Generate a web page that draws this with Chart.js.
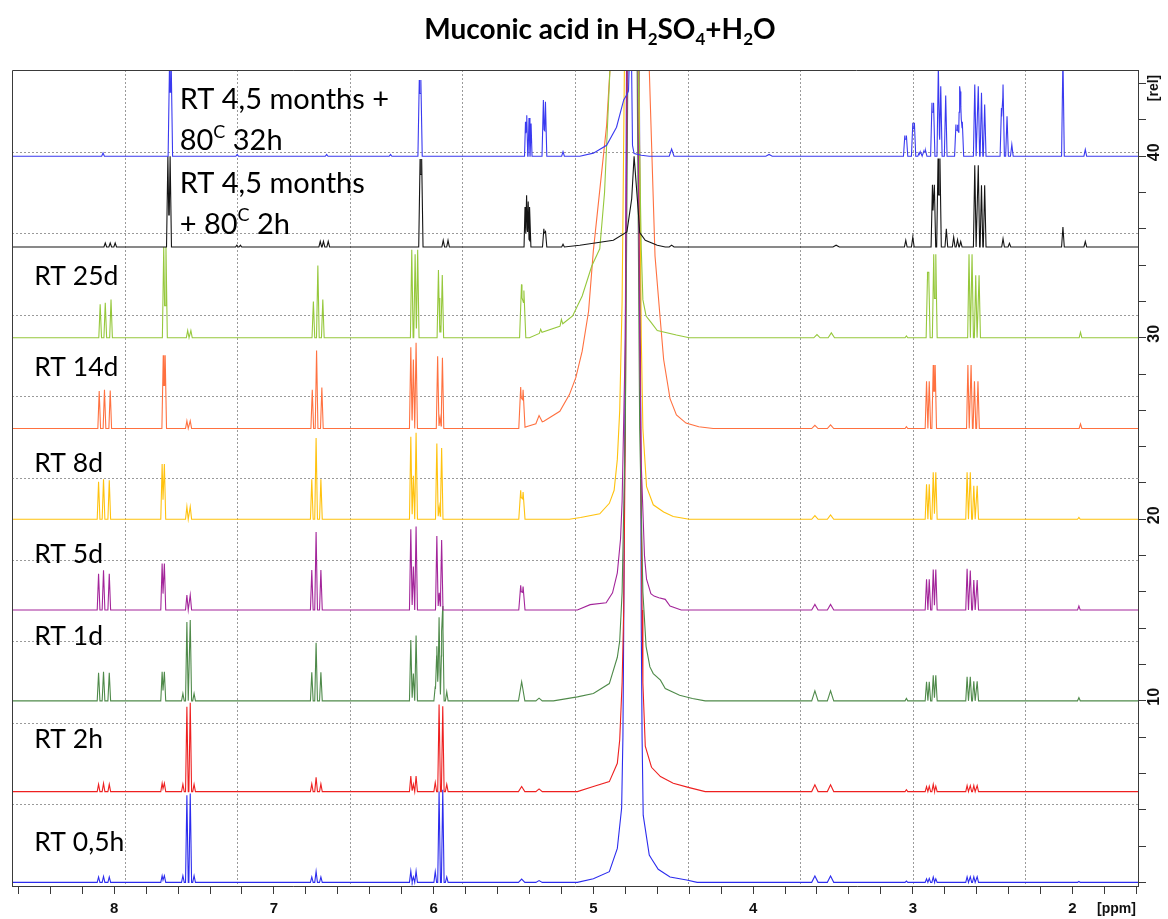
<!DOCTYPE html>
<html>
<head>
<meta charset="utf-8">
<title>Muconic acid in H2SO4+H2O</title>
<script src="https://cdn.jsdelivr.net/npm/chart.js@4.4.1/dist/chart.umd.min.js"></script>
<style>
  html, body { margin: 0; padding: 0; background: #fff; }
  #wrap { width: 1168px; height: 919px; }
</style>
</head>
<body>
<div id="wrap"><canvas id="nmr" width="1168" height="919"></canvas></div>
<script>
// 1H spectra stacked with a vertical offset, shift axis reversed (ppm)
const ppmRange = [8.64, 1.59];
const relRange = [-0.2, 44.75];
const xMajorTicks = [8, 7, 6, 5, 4, 3, 2];
const yLabelTicks = [10, 20, 30, 40];

const sampleNames = ['RT 4,5 months + 80C 32h', 'RT 4,5 months + 80C 2h', 'RT 25d', 'RT 14d',
                     'RT 8d', 'RT 5d', 'RT 1d', 'RT 2h', 'RT 0,5h'];
const sampleOffsets = [40, 35, 30, 25, 20, 15, 10, 5, 0];
const sampleColors = ['#3a3af0', '#151515', '#96c83c', '#ff7140', '#ffc20e', '#a3259a', '#4f8a4a', '#ee2020', '#2c2cee'];

// sharp lines: [ppm, height, half width (optional)]
const peaks32h = [
  [8.07, 0.18], [7.654, 5], [7.643, 5], [7.23, 0.1], [6.67, 0.1], [6.27, 0.1],
  [6.09, 4.2], [6.08, 4.2],
  [5.425, 1.9, 0.006], [5.417, 2.26, 0.006], [5.403, 2.1, 0.006], [5.39, 1.8, 0.006],
  [5.313, 3.1], [5.30, 3.0], [5.19, 0.25], [4.51, 0.4, 0.015], [3.9, 0.1, 0.02],
  [3.05, 1.14], [3.04, 1.14], [3.0, 1.84], [2.99, 1.84], [2.96, 0.2], [2.95, 0.2], [2.93, 0.3], [2.92, 0.3],
  [2.88, 2.94], [2.87, 2.94], [2.84, 5], [2.825, 3.86], [2.794, 3.34],
  [2.73, 1.74], [2.72, 1.74], [2.71, 1.56], [2.705, 2.1], [2.70, 2.7], [2.69, 1.9],
  [2.612, 3.95], [2.59, 3.86], [2.57, 3.5], [2.55, 2.85],
  [2.445, 2.66], [2.435, 3.95], [2.41, 2.2], [2.38, 0.64],
  [2.06, 5.5], [1.92, 0.37]
];
const peaks2h80 = [
  [8.056, 0.22], [8.025, 0.22], [7.994, 0.22], [7.664, 5.0], [7.65, 5.0], [7.232, 0.1], [7.21, 0.1],
  [6.71, 0.31], [6.69, 0.31], [6.66, 0.31], [6.085, 4.85], [6.075, 4.85], [5.94, 0.37], [5.91, 0.37],
  [5.428, 2.2, 0.006], [5.418, 2.85, 0.006], [5.408, 2.5, 0.006], [5.397, 2.2, 0.006],
  [5.31, 1.0], [5.30, 0.9], [5.19, 0.15], [4.51, 0.1, 0.015], [3.48, 0.1, 0.02],
  [3.044, 0.37], [3.0, 0.55], [2.877, 3.43], [2.865, 3.43], [2.842, 4.87], [2.83, 4.87], [2.79, 1.0],
  [2.744, 0.55], [2.72, 0.4], [2.70, 0.3], [2.612, 4.5], [2.59, 4.5], [2.57, 3.4], [2.55, 3.4],
  [2.435, 0.46], [2.395, 0.2], [2.06, 1.1], [1.92, 0.3]
];
const peaks25d = [
  [8.088, 1.84], [8.056, 1.93], [8.02, 2.1], [7.69, 5.0], [7.676, 5.0], [7.54, 0.4], [7.52, 0.4],
  [6.753, 2.0], [6.725, 3.98], [6.694, 2.1], [6.137, 4.85], [6.116, 4.6], [6.10, 4.85],
  [5.97, 3.73], [5.958, 0.5], [5.946, 3.45], [5.45, 2.94, 0.012], [5.435, 2.6, 0.012],
  [5.33, 0.2], [5.2, 0.3], [3.6, 0.18, 0.02], [3.51, 0.27, 0.02], [3.04, 0.1],
  [2.908, 3.4], [2.9, 3.4], [2.869, 4.6], [2.856, 4.6], [2.648, 4.6], [2.629, 4.6], [2.606, 3.44], [2.585, 3.44],
  [1.95, 0.3]
];
const peaks14d = [
  [8.094, 2.07], [8.061, 2.13], [8.025, 2.1], [7.693, 4.04], [7.681, 4.04], [7.545, 0.42], [7.524, 0.42],
  [6.76, 2.13], [6.733, 4.3], [6.70, 2.26], [6.143, 4.48], [6.127, 3.8], [6.11, 4.72],
  [5.975, 3.98], [5.96, 0.6], [5.945, 3.9], [5.455, 2.28, 0.012], [5.44, 2.1, 0.012], [5.34, 0.4, 0.02],
  [3.613, 0.18, 0.02], [3.515, 0.2, 0.02], [3.04, 0.1],
  [2.914, 2.6], [2.897, 2.6], [2.872, 3.5], [2.86, 3.5], [2.655, 3.5], [2.635, 3.5], [2.614, 2.6], [2.592, 2.6],
  [1.95, 0.25]
];
const peaks8d = [
  [8.098, 2.07], [8.067, 2.2], [8.031, 2.15], [7.70, 3.05], [7.686, 3.05], [7.545, 0.7], [7.524, 0.7],
  [6.763, 2.2], [6.736, 4.48], [6.706, 2.2], [6.143, 4.55], [6.127, 2.4], [6.11, 4.77],
  [5.98, 4.18], [5.965, 0.7], [5.95, 3.93], [5.455, 1.6, 0.012], [5.44, 1.5, 0.012],
  [3.613, 0.2, 0.02], [3.515, 0.24, 0.02],
  [2.914, 1.93], [2.897, 1.93], [2.872, 2.59], [2.856, 2.59], [2.66, 2.59], [2.64, 2.59], [2.618, 1.85], [2.597, 1.85],
  [1.96, 0.1]
];
const peaks5d = [
  [8.098, 2.0], [8.067, 2.19], [8.031, 2.0], [7.70, 2.57], [7.686, 2.57], [7.545, 0.83], [7.524, 0.83],
  [6.763, 2.2], [6.736, 4.3], [6.706, 2.2], [6.143, 4.45], [6.127, 2.4], [6.11, 4.6],
  [5.98, 4.08], [5.965, 0.95], [5.95, 3.86], [5.455, 1.36, 0.012], [5.44, 1.3, 0.012],
  [3.613, 0.31, 0.02], [3.515, 0.31, 0.02],
  [2.914, 1.7], [2.897, 1.7], [2.872, 2.24], [2.856, 2.24], [2.66, 2.28], [2.64, 2.18], [2.618, 1.65], [2.597, 1.65],
  [1.96, 0.22]
];
const peaks1d = [
  [8.098, 1.55], [8.067, 1.6], [8.031, 1.55], [7.70, 1.6], [7.686, 1.6],
  [7.57, 0.4], [7.545, 4.34], [7.524, 4.45], [7.50, 0.4],
  [6.763, 1.58], [6.736, 3.2], [6.706, 1.58], [6.143, 3.35], [6.127, 1.5], [6.11, 3.6],
  [5.99, 0.8], [5.98, 3.0], [5.966, 4.6], [5.95, 3.0], [5.943, 4.7], [5.918, 0.5],
  [5.449, 1.05, 0.02], [5.34, 0.15, 0.02], [3.613, 0.55, 0.02], [3.515, 0.55, 0.02], [3.04, 0.13],
  [2.914, 1.05], [2.897, 1.05], [2.872, 1.41], [2.856, 1.41], [2.66, 1.32], [2.64, 1.32], [2.618, 1.08], [2.597, 1.08],
  [1.96, 0.18]
];
const peaks2h = [
  [8.098, 0.4], [8.067, 0.45], [8.031, 0.4], [7.70, 0.46], [7.686, 0.46],
  [7.57, 0.4], [7.545, 4.68], [7.524, 4.9], [7.50, 0.4],
  [6.763, 0.42], [6.736, 0.79], [6.706, 0.42], [6.143, 0.86], [6.127, 0.4], [6.11, 0.86],
  [5.99, 0.5], [5.966, 4.8], [5.943, 4.7], [5.918, 0.4], [5.449, 0.28, 0.02], [5.34, 0.15, 0.02],
  [3.613, 0.37, 0.02], [3.515, 0.37, 0.02], [3.04, 0.1],
  [2.914, 0.28], [2.897, 0.3], [2.872, 0.4], [2.856, 0.3], [2.66, 0.33], [2.64, 0.33], [2.618, 0.33], [2.597, 0.33]
];
const peaks05h = [
  [8.098, 0.3], [8.067, 0.33], [8.031, 0.3], [7.70, 0.37], [7.686, 0.37],
  [7.57, 0.37], [7.545, 4.8], [7.524, 4.9], [7.50, 0.37],
  [6.763, 0.3], [6.736, 0.6], [6.706, 0.3], [6.143, 0.62], [6.127, 0.3], [6.11, 0.62],
  [5.99, 0.59], [5.966, 5.0], [5.943, 5.1], [5.918, 0.3], [5.449, 0.18, 0.02], [5.34, 0.1, 0.02],
  [3.613, 0.35, 0.02], [3.515, 0.35, 0.02], [3.04, 0.07],
  [2.914, 0.2], [2.897, 0.22], [2.872, 0.3], [2.856, 0.2], [2.66, 0.31], [2.64, 0.31], [2.618, 0.31], [2.597, 0.31],
  [1.96, 0.05]
];

// broad water/acid signal: [ppm, height]
const water32h = [[5.085, 0], [5.0, 0.17], [4.917, 0.6], [4.855, 1.6], [4.81, 3.1], [4.79, 3.4], [4.78, 3.6],
  [4.772, 6], [4.762, 6], [4.755, 0.6], [4.745, 0.15], [4.70, 0.05], [4.65, 0]];
const water2h80 = [[5.085, 0.1], [4.875, 0.37], [4.79, 0.83], [4.76, 2.66], [4.745, 5], [4.74, 5],
  [4.72, 2.1], [4.71, 0.8], [4.675, 0.37], [4.6, 0.1], [4.55, 0]];
const water25d = [[5.40, 0], [5.33, 0.27], [5.21, 0.64], [5.13, 1.2], [5.07, 2.3], [5.01, 3.95], [4.96, 4.9],
  [4.93, 8], [4.896, 14.8], [4.85, 40], [4.775, 200], [4.73, 40], [4.72, 15], [4.70, 4.87], [4.69, 2.1],
  [4.67, 1.2], [4.64, 0.86], [4.60, 0.4], [4.48, 0.15], [4.4, 0]];
const water14d = [[5.45, 0], [5.41, 0.13], [5.31, 0.4], [5.21, 0.95], [5.15, 1.87], [5.11, 2.8], [5.07, 4.26],
  [5.03, 6.46], [5.0, 9.8], [4.917, 16.7], [4.896, 19.8], [4.85, 35], [4.775, 80], [4.70, 32], [4.65, 19.8],
  [4.614, 9.5], [4.583, 6.2], [4.56, 3.8], [4.52, 1.65], [4.48, 0.75], [4.42, 0.3], [4.34, 0.1], [4.25, 0]];
const water8d = [[5.15, 0], [5.08, 0.1], [4.96, 0.3], [4.90, 0.88], [4.87, 1.6], [4.85, 3.3], [4.835, 6],
  [4.82, 12], [4.80, 30], [4.76, 150], [4.72, 30], [4.70, 10], [4.69, 5], [4.667, 1.8], [4.625, 0.8],
  [4.56, 0.4], [4.5, 0.15], [4.4, 0]];
const water5d = [[5.10, 0], [5.02, 0.3], [4.92, 0.4], [4.88, 0.95], [4.85, 2.05], [4.83, 3.9], [4.82, 6],
  [4.80, 15], [4.78, 40], [4.755, 150], [4.73, 40], [4.71, 15], [4.70, 8], [4.68, 3], [4.667, 1.7],
  [4.64, 0.9], [4.62, 0.77], [4.59, 0.68], [4.55, 0.59], [4.52, 0.22], [4.45, 0]];
const water1d = [[5.25, 0], [5.10, 0.22], [5.0, 0.4], [4.9, 0.95], [4.85, 2.4], [4.835, 3.3], [4.82, 6],
  [4.80, 15], [4.78, 40], [4.755, 150], [4.73, 40], [4.71, 15], [4.69, 6], [4.67, 3], [4.646, 1.87],
  [4.625, 1.5], [4.58, 1.14], [4.55, 0.68], [4.46, 0.31], [4.38, 0.13], [4.3, 0]];
const water2h = [[5.10, 0], [5.0, 0.28], [4.90, 0.55], [4.85, 1.56], [4.835, 2.85], [4.82, 6], [4.81, 10],
  [4.80, 20], [4.79, 40], [4.755, 200], [4.72, 40], [4.705, 20], [4.695, 10], [4.69, 6], [4.675, 2.5],
  [4.636, 1.34], [4.58, 0.83], [4.5, 0.46], [4.4, 0.22], [4.3, 0]];
const water05h = [[5.10, 0], [5.0, 0.2], [4.90, 0.59], [4.85, 1.87], [4.823, 4.1], [4.815, 8], [4.81, 14],
  [4.80, 30], [4.79, 50], [4.755, 200], [4.715, 50], [4.705, 30], [4.70, 14], [4.695, 8], [4.688, 3.7],
  [4.65, 1.5], [4.636, 1.3], [4.594, 0.72], [4.52, 0.3], [4.416, 0.13], [4.35, 0]];

const samplePeaks = [peaks32h, peaks2h80, peaks25d, peaks14d, peaks8d, peaks5d, peaks1d, peaks2h, peaks05h];
const sampleWater = [water32h, water2h80, water25d, water14d, water8d, water5d, water1d, water2h, water05h];

// label text pieces ('sup'/'sub' for raised / lowered parts), anchor [ppm, rel] of the first baseline
const titleParts = [['Muconic acid in H'], ['2', 'sub'], ['SO'], ['4', 'sub'], ['+H'], ['2', 'sub'], ['O']];
const sampleLabels = [
  [[['RT 4,5 months +']], [['80'], ['C', 'sup'], [' 32h']]],
  [[['RT 4,5 months']], [['+ 80'], ['C', 'sup'], [' 2h']]],
  [[['RT 25d']]], [[['RT 14d']]], [[['RT 8d']]], [[['RT 5d']]], [[['RT 1d']]], [[['RT 2h']]], [[['RT 0,5h']]]
];
const labelAnchors = [[7.59, 42.6], [7.59, 38.0], [8.50, 32.9], [8.50, 27.9], [8.50, 22.6],
                      [8.50, 17.6], [8.50, 13.1], [8.50, 7.4], [8.50, 1.75]];

const DEFAULT_HW = 0.0085;

// sum of triangular lines plus the broad profile, offset onto the stack
function buildTrace(peaks, water, offset) {
  const xs = new Set([ppmRange[0], ppmRange[1]]);
  peaks.forEach(p => {
    const hw = p[2] || DEFAULT_HW;
    xs.add(p[0] - hw); xs.add(p[0]); xs.add(p[0] + hw);
  });
  water.forEach(w => xs.add(w[0]));
  const sorted = Array.from(xs).sort((a, b) => b - a);
  return sorted.map(x => {
    let y = 0;
    peaks.forEach(p => {
      const hw = p[2] || DEFAULT_HW;
      const d = Math.abs(x - p[0]);
      if (d < hw) y += p[1] * (1 - d / hw);
    });
    for (let i = 0; i < water.length - 1; i++) {
      const a = water[i], b = water[i + 1];
      if (x <= a[0] && x >= b[0]) {
        y += a[1] + (b[1] - a[1]) * (a[0] - x) / (a[0] - b[0]);
        break;
      }
    }
    return { x: x, y: y + offset };
  });
}

function drawParts(ctx, parts, x, y, size, weight, family, align) {
  const small = Math.round(size * 0.62);
  const widths = parts.map(p => {
    ctx.font = weight + ' ' + (p[1] ? small : size) + 'px ' + family;
    return ctx.measureText(p[0]).width;
  });
  const total = widths.reduce((a, b) => a + b, 0);
  let cx = align === 'center' ? x - total / 2 : x;
  ctx.textAlign = 'left';
  ctx.textBaseline = 'alphabetic';
  parts.forEach((p, i) => {
    ctx.font = weight + ' ' + (p[1] ? small : size) + 'px ' + family;
    let dy = 0;
    if (p[1] === 'sup') dy = -size * 0.42;
    if (p[1] === 'sub') dy = size * 0.22;
    ctx.fillText(p[0], cx, y + dy);
    cx += widths[i];
  });
}

const frameColor = '#3a3a3a';
const labelFont = 'Lato, "Open Sans", sans-serif';
const axisFont = '"Liberation Sans", Arial, sans-serif';

const decorPlugin = {
  id: 'decor',
  beforeDatasetsDraw(chart) {
    const { ctx, chartArea: a } = chart;
    ctx.save();
    ctx.strokeStyle = '#9a9a9a';
    ctx.lineWidth = 1;
    ctx.setLineDash([2, 2]);
    for (let k = 1; k < 10; k++) {
      const gx = Math.round(a.left + (a.right - a.left) * k / 10) + 0.5;
      const gy = Math.round(a.top + (a.bottom - a.top) * k / 10) + 0.5;
      ctx.beginPath(); ctx.moveTo(gx, a.top); ctx.lineTo(gx, a.bottom); ctx.stroke();
      ctx.beginPath(); ctx.moveTo(a.left, gy); ctx.lineTo(a.right, gy); ctx.stroke();
    }
    ctx.restore();
  },
  afterDraw(chart) {
    const { ctx, chartArea: a, scales } = chart;
    ctx.save();
    ctx.strokeStyle = frameColor;
    ctx.lineWidth = 1;
    ctx.beginPath();
    ctx.moveTo(a.left + 0.5, a.bottom); ctx.lineTo(a.left + 0.5, a.top + 0.5); ctx.lineTo(a.right, a.top + 0.5);
    ctx.stroke();

    // title
    ctx.fillStyle = '#000';
    drawParts(ctx, titleParts, 600, 39, 28, 'bold', labelFont, 'center');

    // sample names
    sampleLabels.forEach((lines, i) => {
      const size = i < 2 ? 29 : 26.5;
      const lx = scales.x.getPixelForValue(labelAnchors[i][0]);
      let ly = scales.y.getPixelForValue(labelAnchors[i][1]);
      lines.forEach(parts => {
        drawParts(ctx, parts, lx, ly, size, 'normal', labelFont, 'left');
        ly += 41;
      });
    });

    // rotated intensity labels on the right axis
    ctx.font = 'bold 16px ' + axisFont;
    ctx.textAlign = 'center';
    ctx.textBaseline = 'middle';
    ctx.fillStyle = '#111';
    yLabelTicks.forEach(v => {
      ctx.save();
      ctx.translate(1155, scales.y.getPixelForValue(v) - 4);
      ctx.rotate(-Math.PI / 2);
      ctx.fillText(String(v), 0, 0);
      ctx.restore();
    });
    ctx.font = 'bold 14px ' + axisFont;
    ctx.save();
    ctx.translate(1154, 88);
    ctx.rotate(-Math.PI / 2);
    ctx.fillText('[rel]', 0, 0);
    ctx.restore();

    ctx.textAlign = 'left';
    ctx.textBaseline = 'middle';
    ctx.fillText('[ppm]', 1097, 909);
    ctx.restore();
  }
};

const datasets = sampleNames.map((name, i) => ({
  label: name,
  data: buildTrace(samplePeaks[i], sampleWater[i], sampleOffsets[i]),
  borderColor: sampleColors[i],
  borderWidth: 1.1,
  pointRadius: 0,
  tension: 0,
  fill: false
}));

new Chart(document.getElementById('nmr').getContext('2d'), {
  type: 'line',
  data: { datasets: datasets },
  options: {
    responsive: false,
    animation: false,
    parsing: false,
    layout: { padding: { left: 12, top: 70, right: 0, bottom: 0 } },
    plugins: { legend: { display: false }, tooltip: { enabled: false }, title: { display: false } },
    events: [],
    scales: {
      x: {
        type: 'linear',
        reverse: true,
        min: ppmRange[1],
        max: ppmRange[0],
        afterBuildTicks: scale => {
          const ticks = [];
          for (let v = 16; v <= 86; v += 2) ticks.push({ value: v / 10 });
          scale.ticks = ticks;
        },
        afterFit: scale => { scale.height = 33; },
        grid: { drawOnChartArea: false, tickLength: 8, color: frameColor },
        border: { color: frameColor },
        ticks: {
          autoSkip: false,
          maxRotation: 0,
          padding: 6,
          color: '#111',
          font: { family: axisFont, weight: 'bold', size: 15 },
          callback: v => xMajorTicks.includes(Math.round(v * 10) / 10) ? String(Math.round(v)) : ''
        }
      },
      y: {
        type: 'linear',
        position: 'right',
        min: relRange[0],
        max: relRange[1],
        afterBuildTicks: scale => {
          const ticks = [];
          for (let v = 0; v <= 44; v += 2) ticks.push({ value: v });
          scale.ticks = ticks;
        },
        afterFit: scale => { scale.width = 30; },
        grid: { drawOnChartArea: false, tickLength: 8, color: frameColor },
        border: { color: frameColor },
        ticks: { callback: () => '' }
      }
    }
  },
  plugins: [decorPlugin]
});
</script>
</body>
</html>
